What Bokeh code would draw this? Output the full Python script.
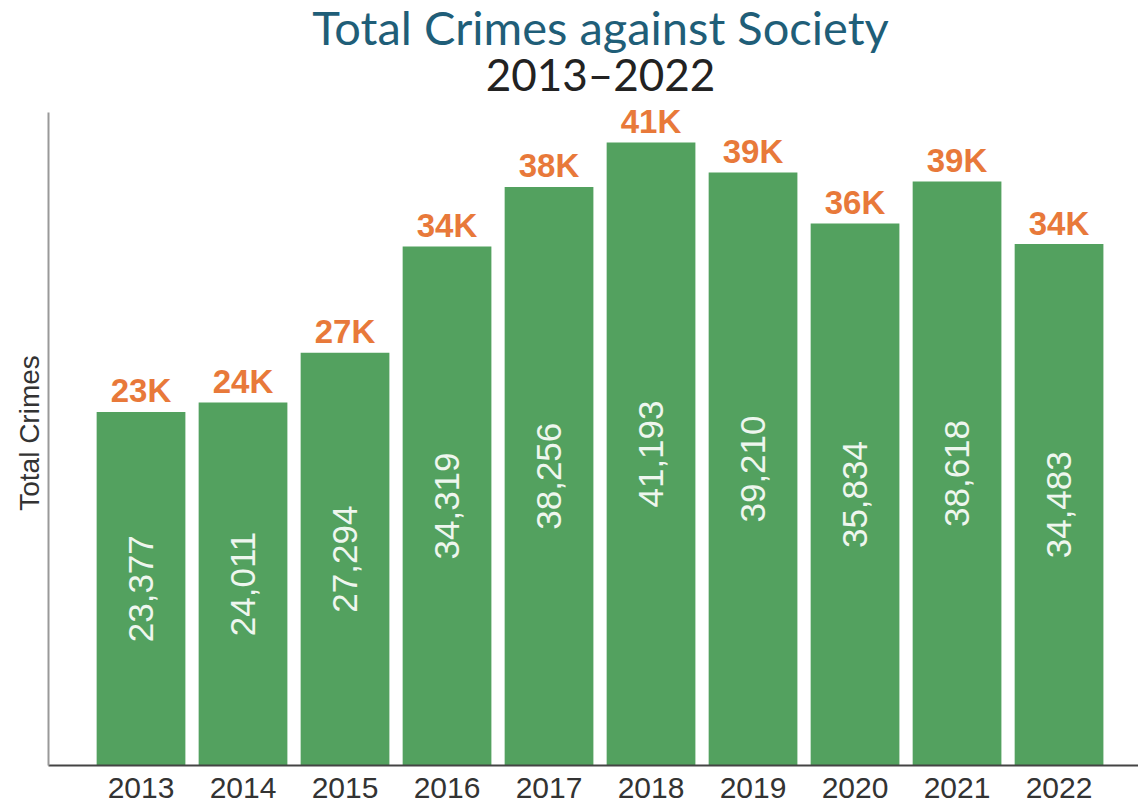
import math
from bokeh.plotting import figure
from bokeh.layouts import column
from bokeh.models import ColumnDataSource, FixedTicker, Range1d
from bokeh.core.properties import value
from bokeh.embed import file_html
from bokeh.resources import INLINE

years = [2013, 2014, 2015, 2016, 2017, 2018, 2019, 2020, 2021, 2022]
crimes = [23377, 24011, 27294, 34319, 38256, 41193, 39210, 35834, 38618, 34483]

title_text = "Total Crimes against Society"
subtitle_text = "2013\u20132022"
y_label = "Total Crimes"

xs = list(range(len(years)))
short_labels = [f"{round(v / 1000)}K" for v in crimes]
full_labels = [f"{v:,}" for v in crimes]
mids = [v / 2 for v in crimes]

src = ColumnDataSource(dict(x=xs, top=crimes, short=short_labels, full=full_labels, mid=mids))

W = 1138
TITLE_H = 100
Y_MAX = 43973          # top of the plotting area
Y_AXIS_END = 43180     # where the drawn y-axis line stops
x_range = Range1d(-0.907, 9.779)

# ---- title block (shares the chart's x scale) ----
t = figure(width=W, height=TITLE_H, output_backend="svg", toolbar_location=None,
           title=None, x_range=x_range, y_range=Range1d(TITLE_H, 0),
           x_axis_type=None, y_axis_type=None,
           min_border_left=48, min_border_right=0, min_border_top=0, min_border_bottom=0)
t.outline_line_color = None
t.xgrid.visible = False
t.ygrid.visible = False
t.text(x=[4.505], y=[26], text=[title_text], text_align="center", text_baseline="alphabetic",
       text_font=value("Lato"), text_font_size="47px", text_color="#1f5e78")
t.text(x=[4.505], y=[73], text=[subtitle_text], text_align="center", text_baseline="alphabetic",
       text_font=value("Lato"), text_font_size="44px", text_color="#222222")

# ---- chart ----
p = figure(width=W, height=809 - TITLE_H, output_backend="svg", toolbar_location=None,
           title=None, x_range=x_range, y_range=Range1d(0, Y_MAX),
           min_border_left=48, min_border_right=0, min_border_top=0, min_border_bottom=44)
p.outline_line_color = None
p.xgrid.visible = False
p.ygrid.visible = False

p.vbar(x="x", top="top", width=0.87, bottom=0, source=src,
       fill_color="#53a15f", line_color=None)

p.text(x="x", y="top", text="short", source=src, text_align="center",
       text_baseline="alphabetic", y_offset=-21,
       text_font=value("Liberation Sans"), text_font_style="bold",
       text_font_size="33px", text_color="#e8793a")

p.text(x="x", y="mid", text="full", source=src, angle=math.pi / 2,
       text_align="center", text_baseline="middle",
       text_font=value("Liberation Sans"), text_font_size="35px",
       text_color="#eef6ee")

xa = p.xaxis[0]
xa.ticker = FixedTicker(ticks=xs)
xa.major_label_overrides = {i: str(y) for i, y in zip(xs, years)}
xa.major_label_text_font = "Liberation Sans"
xa.major_label_text_font_size = "30px"
xa.major_label_text_color = "#333333"
xa.major_label_standoff = 12
xa.major_tick_line_color = None
xa.minor_tick_line_color = None
xa.major_tick_out = 0
xa.major_tick_in = 0
xa.axis_line_color = "#444444"
xa.axis_line_width = 2

ya = p.yaxis[0]
ya.ticker = FixedTicker(ticks=[])
ya.bounds = (0, Y_AXIS_END)
ya.major_label_text_font_size = "0px"
ya.major_label_standoff = 0
ya.major_tick_line_color = None
ya.minor_tick_line_color = None
ya.major_tick_out = 0
ya.major_tick_in = 0
ya.axis_line_color = "#999999"
ya.axis_line_width = 2
ya.axis_label = y_label
ya.axis_label_text_font = "Liberation Sans"
ya.axis_label_text_font_size = "28px"
ya.axis_label_text_font_style = "normal"
ya.axis_label_text_color = "#333333"
ya.axis_label_standoff = 4

layout = column(t, p, spacing=0)
open("out.html", "w").write(file_html(layout, INLINE))
